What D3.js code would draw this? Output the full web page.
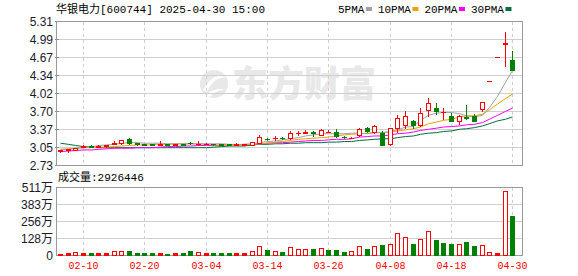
<!DOCTYPE html>
<html><head><meta charset="utf-8">
<script src="https://cdn.jsdelivr.net/npm/d3@7"></script>
<style>html,body{margin:0;padding:0;background:#fff;overflow:hidden}</style>
</head><body><svg id="c" width="578" height="276"></svg>
<script>
const dates = ["02-05","02-06","02-07","02-10","02-11","02-12","02-13","02-14","02-17","02-18",
"02-19","02-20","02-21","02-24","02-25","02-26","02-27","02-28","03-03","03-04",
"03-05","03-06","03-07","03-10","03-11","03-12","03-13","03-14","03-17","03-18",
"03-19","03-20","03-21","03-24","03-25","03-26","03-27","03-28","03-31","04-01",
"04-02","04-03","04-07","04-08","04-09","04-10","04-11","04-14","04-15","04-16",
"04-17","04-18","04-21","04-22","04-23","04-24","04-25","04-28","04-29","04-30"];
const open = [2.98,3.00,3.00,3.06,3.07,3.06,3.07,3.10,3.12,3.19, 3.12,3.10,3.10,3.09,3.10,3.09,3.10,3.13,3.10,3.10,
3.11,3.10,3.10,3.09,3.09,3.09,3.13,3.20,3.21,3.22, 3.21,3.30,3.31,3.32,3.27,3.33,3.32,3.24,3.21,3.26,
3.40,3.32,3.30,3.10,3.40,3.45,3.52,3.45,3.71,3.75, 3.68,3.60,3.52,3.59,3.61,3.73,4.24,4.66,4.90,4.62];
const close = [2.99,3.01,3.04,3.07,3.06,3.07,3.08,3.12,3.18,3.13, 3.10,3.09,3.09,3.10,3.09,3.10,3.09,3.12,3.11,3.11,
3.10,3.09,3.09,3.10,3.10,3.14,3.23,3.19,3.22,3.21, 3.30,3.31,3.32,3.31,3.36,3.33,3.25,3.23,3.22,3.38,
3.34,3.43,3.09,3.39,3.57,3.60,3.45,3.67,3.84,3.69, 3.68,3.51,3.61,3.57,3.51,3.85,4.24,4.66,4.92,4.43];
const high = [3.00,3.02,3.04,3.08,3.09,3.08,3.09,3.16,3.18,3.22, 3.13,3.11,3.11,3.16,3.11,3.11,3.11,3.14,3.16,3.12,
3.11,3.11,3.10,3.12,3.11,3.14,3.26,3.22,3.25,3.23, 3.34,3.34,3.36,3.34,3.38,3.36,3.37,3.25,3.24,3.39,
3.41,3.45,3.34,3.40,3.63,3.69,3.53,3.75,3.93,3.84, 3.75,3.66,3.62,3.81,3.64,3.85,4.24,4.66,5.12,4.77];
const low = [2.96,2.97,2.99,3.05,3.05,3.05,3.06,3.10,3.11,3.11, 3.09,3.08,3.08,3.08,3.08,3.08,3.09,3.11,3.09,3.10,
3.09,3.09,3.08,3.09,3.09,3.08,3.12,3.17,3.18,3.19, 3.20,3.27,3.30,3.25,3.26,3.32,3.24,3.22,3.21,3.25,
3.33,3.31,3.08,3.09,3.33,3.39,3.40,3.42,3.60,3.65, 3.55,3.51,3.47,3.56,3.51,3.69,4.24,4.66,4.50,4.43];
// volume in 万 shares
const volume = [10,15,23,15,15,15,15,30,30,33, 15,15,15,15,10,15,15,30,22,15,
15,15,15,15,15,30,65,38,30,23, 63,43,43,45,50,38,38,23,28,65,
45,65,75,80,163,133,83,118,178,113, 90,83,83,98,68,73,23,15,479,292.6446];
const ma5 = [3.01,3.01,3.03,3.04,3.05,3.08,3.09,3.10,3.12,3.13, 3.13,3.12,3.12,3.12,3.11,3.11,3.11,3.11,3.11,3.11,
3.11,3.11,3.10,3.10,3.10,3.11,3.13,3.15,3.16,3.18, 3.20,3.22,3.25,3.27,3.29,3.29,3.29,3.29,3.30,3.30,
3.29,3.31,3.31,3.33,3.36,3.41,3.42,3.53,3.62,3.66, 3.67,3.67,3.65,3.61,3.59,3.62,3.76,3.96,4.21,4.42];
const ma10 = [3.01,3.02,3.03,3.04,3.04,3.05,3.05,3.06,3.07,3.08, 3.09,3.09,3.09,3.10,3.10,3.11,3.11,3.11,3.11,3.10,
3.09,3.08,3.08,3.08,3.09,3.10,3.11,3.12,3.14,3.15, 3.17,3.19,3.20,3.21,3.22,3.23,3.25,3.27,3.28,3.29,
3.30,3.31,3.31,3.32,3.34,3.36,3.38,3.41,3.47,3.50, 3.53,3.55,3.59,3.61,3.61,3.64,3.72,3.82,3.92,4.00];
const ma20 = [2.97,2.98,2.99,3.00,3.00,3.01,3.02,3.03,3.03,3.03, 3.04,3.04,3.04,3.05,3.06,3.06,3.07,3.07,3.08,3.08,
3.08,3.09,3.09,3.09,3.10,3.10,3.11,3.12,3.13,3.13, 3.14,3.15,3.16,3.17,3.17,3.18,3.19,3.19,3.20,3.23,
3.24,3.25,3.25,3.27,3.29,3.30,3.32,3.35,3.37,3.39, 3.41,3.42,3.43,3.45,3.46,3.49,3.55,3.62,3.69,3.75];
const ma30 = [3.12,3.10,3.08,3.06,3.05,3.04,3.04,3.04,3.04,3.04, 3.04,3.04,3.04,3.04,3.04,3.04,3.04,3.04,3.04,3.04,
3.05,3.06,3.07,3.07,3.07,3.09,3.10,3.10,3.11,3.11, 3.12,3.12,3.13,3.13,3.13,3.14,3.14,3.15,3.15,3.17,
3.18,3.19,3.20,3.20,3.22,3.24,3.25,3.28,3.30,3.31, 3.33,3.34,3.37,3.38,3.40,3.43,3.47,3.52,3.55,3.59];
const xTickLabels = ["02-10","02-20","03-04","03-14","03-26","04-08","04-18","04-30"];
const priceTickLabels = ["2.73","3.05","3.37","3.70","4.02","4.34","4.67","4.99","5.31"];
const volTickLabels = ["0","128万","256万","383万","511万"];
const maNames = ["5PMA","10PMA","20PMA","30PMA"];
const maColors = ["#a0a0a0","#f0a000","#ff00ff","#00703a"];
const titleText = "华银电力[600744] 2025-04-30 15:00";

const RED = "#ff0000", GREEN = "#008000";
const svg = d3.select("#c");
const L = 56, R = 522;
const x = d3.scaleBand().domain(dates).range([56, 516]);
const cx = d => Math.round(x(d) + x.bandwidth() / 2);
const pMin = 2.73, pMax = 5.31;
const y = d3.scaleLinear().domain([pMin, pMax]).range([165, 21]);
const yv = d3.scaleLinear().domain([0, 511]).range([255, 187]);
const mono = "'Liberation Mono','Noto Sans CJK SC',monospace";
const sans = "'Liberation Sans','Noto Sans CJK SC',Arial,sans-serif";

svg.append("rect").attr("width", 578).attr("height", 276).attr("fill", "#fff");

// watermark
const wm = svg.append("g").attr("fill", "#e8e8e8");
wm.append("circle").attr("cx", 214).attr("cy", 84).attr("r", 14);
wm.append("path").attr("d", "M203,90 Q214,70 226,78 Q214,76 207,92 Z").attr("fill", "#fff");
wm.append("path").attr("d", "M205,95 Q218,86 224,90 Q216,90 210,97 Z").attr("fill", "#fff");
wm.append("text").attr("x", 232).attr("y", 97).attr("font-family", "'Noto Sans CJK SC'")
  .attr("font-weight", 900).attr("font-size", 36).text("东方财富");

const g = svg.append("g").attr("shape-rendering", "crispEdges");

// horizontal grid - price
const pStep = (pMax - pMin) / 8;
priceTickLabels.forEach((t, k) => {
  const yy = Math.round(y(pMin + k * pStep)) + 0.5;
  if (k > 0 && k < 8) g.append("line").attr("x1", L).attr("x2", R).attr("y1", yy).attr("y2", yy).attr("stroke", "#cfcfcf");
  g.append("line").attr("x1", L - 1).attr("x2", L + 3).attr("y1", yy).attr("y2", yy).attr("stroke", "#888");
  svg.append("text").attr("x", 53).attr("y", yy).attr("dy", "0.36em").attr("text-anchor", "end")
    .attr("font-family", sans).attr("font-size", 12).attr("fill", "#1a1a2a").text(t);
});
// horizontal grid - volume
volTickLabels.forEach((t, k) => {
  const yy = Math.round(yv(k * 511 / 4)) + 0.5;
  if (k > 0 && k < 4) g.append("line").attr("x1", L).attr("x2", R).attr("y1", yy).attr("y2", yy).attr("stroke", "#cfcfcf");
  svg.append("text").attr("x", 53).attr("y", yy).attr("dy", "0.36em").attr("text-anchor", "end")
    .attr("font-family", sans).attr("font-size", 12).attr("fill", "#1a1a2a").text(t);
});
// vertical dashed grid + date labels
xTickLabels.forEach(t => {
  const xx = cx(t) + 0.5;
  g.append("line").attr("x1", xx).attr("x2", xx).attr("y1", 22).attr("y2", 165).attr("stroke", "#cfcfcf").attr("stroke-dasharray", "3,3");
  g.append("line").attr("x1", xx).attr("x2", xx).attr("y1", 188).attr("y2", 255).attr("stroke", "#cfcfcf").attr("stroke-dasharray", "3,3");
  svg.append("text").attr("x", xx).attr("y", 269).attr("text-anchor", "middle")
    .attr("font-family", mono).attr("font-size", 11).attr("fill", RED)
    .attr("textLength", 30).attr("lengthAdjust", "spacingAndGlyphs").text(t);
});
// frames
g.append("rect").attr("x", L + 0.5).attr("y", 21.5).attr("width", R - L).attr("height", 144).attr("fill", "none").attr("stroke", "#999");
g.append("rect").attr("x", L + 0.5).attr("y", 187.5).attr("width", R - L).attr("height", 68).attr("fill", "none").attr("stroke", "#999");

// MA lines
[ma5, ma10, ma20, ma30].slice().reverse().forEach((arr, ri) => {
  const k = 3 - ri;
  const line = d3.line().x((v, i) => cx(dates[i]) + 0.5).y(v => y(v));
  svg.append("path").attr("d", line(arr)).attr("fill", "none").attr("stroke", maColors[k]).attr("stroke-width", 1);
});

// candles
const cg = svg.append("g").attr("shape-rendering", "crispEdges");
dates.forEach((d, i) => {
  const o = open[i], c = close[i];
  const up = c >= o;
  const col = up ? RED : GREEN;
  const xc = cx(d);
  const yh = Math.round(y(high[i])), yl = Math.round(y(low[i]));
  if (yl > yh) cg.append("line").attr("x1", xc + 0.5).attr("x2", xc + 0.5).attr("y1", yh).attr("y2", yl + 1).attr("stroke", col);
  const top = Math.round(y(Math.max(o, c))), bot = Math.round(y(Math.min(o, c)));
  if (bot - top < 1) {
    cg.append("line").attr("x1", xc - 2).attr("x2", xc + 3).attr("y1", top + 0.5).attr("y2", top + 0.5).attr("stroke", col);
  } else if (up) {
    cg.append("rect").attr("x", xc - 2 + 0.5).attr("y", top + 0.5).attr("width", 4).attr("height", bot - top)
      .attr("fill", "#fff").attr("stroke", col);
  } else {
    cg.append("rect").attr("x", xc - 2).attr("y", top).attr("width", 5).attr("height", bot - top + 1).attr("fill", col);
  }
});

// volume bars
dates.forEach((d, i) => {
  const o = open[i], c = close[i];
  const prev = i > 0 ? close[i - 1] : o;
  const up = c > o || (c === o && c >= prev);
  const xc = cx(d);
  const top = Math.round(yv(volume[i]));
  const h = 255 - top;
  if (up && h >= 3) {
    cg.append("rect").attr("x", xc - 2 + 0.5).attr("y", top + 0.5).attr("width", 4).attr("height", h)
      .attr("fill", "#fff").attr("stroke", RED);
  } else {
    cg.append("rect").attr("x", xc - 2).attr("y", top).attr("width", 5).attr("height", h + 1).attr("fill", up ? RED : GREEN);
  }
});

// title
svg.append("text").attr("x", 56).attr("y", 13).attr("font-family", mono).attr("font-size", 11)
  .attr("fill", "#000").text(titleText);
// legend
let lx = 338;
maNames.forEach((n, k) => {
  const t = svg.append("text").attr("x", lx).attr("y", 13).attr("font-family", mono).attr("font-size", 11)
    .attr("fill", "#000").text(n);
  const w = t.node().getComputedTextLength();
  svg.append("rect").attr("x", lx + w + 1.5).attr("y", 7).attr("width", 6).attr("height", 4).attr("fill", maColors[k]);
  lx = lx + w + 1.5 + 6 + 6;
});
// volume title
svg.append("text").attr("x", 58).attr("y", 181).attr("font-family", mono).attr("font-size", 11)
  .attr("fill", "#000").text("成交量:" + Math.round(volume[volume.length - 1] * 10000));
</script></body></html>
